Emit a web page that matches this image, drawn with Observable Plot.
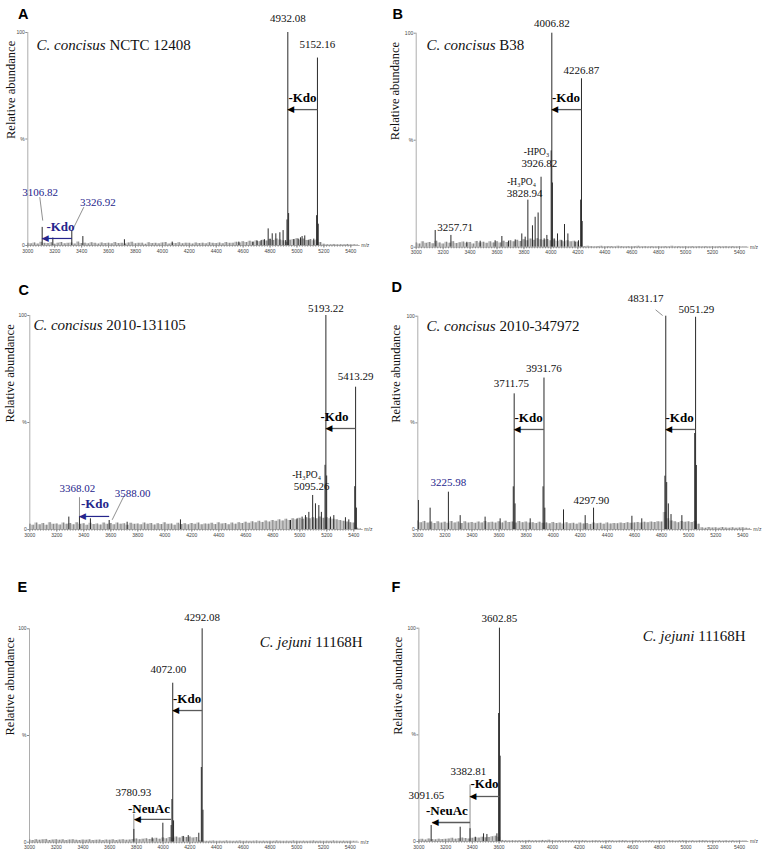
<!DOCTYPE html>
<html><head><meta charset="utf-8">
<script src="https://cdn.jsdelivr.net/npm/d3@7"></script>
<script src="https://cdn.jsdelivr.net/npm/@observablehq/plot@0.6"></script>
<style>
body{margin:0;background:#fff}
#fig{position:relative;width:766px;height:851px;overflow:hidden}
#fig svg{position:absolute;overflow:visible}
</style></head><body><div id="fig"></div>
<script>
// ---------- DATA ----------
const noiseStart = 3000, noiseStep = 25;
// Peaks: [m/z, relative abundance %]
const peaksA = [[3106.82,8.5],[3186,3.5],[3326.92,7],[3409,4.2],[3718,2.7],[4073,1.6],[4568,1.6],[4672,1.5],[4704,2],[4734,2.3],[4759,2.7],[4786,7.8],[4800,3],[4816,5.5],[4843,5.5],[4873,6],[4897,7],[4916,2.3],[4926,12],[4932.08,100],[4938,15],[4977,2.7],[5009,3],[5026,3.6],[5038,4.2],[5058,4.5],[5088,2.3],[5125,3],[5146,14],[5152.16,88],[5158,10]];
const peaksB = [[3141,7.8],[3257.71,5.5],[3376,2.3],[3475,2.8],[3586,3],[3636,5],[3685,2.8],[3735,3.4],[3784,6.2],[3809,4.7],[3828.94,22],[3863,10],[3883,14],[3905,16],[3926.82,32.7],[3950,3.9],[3970,5.5],[4002,45],[4006.82,100],[4011,30],[4024,3.9],[4049,6.2],[4081,3],[4101,10.6],[4126,6.2],[4180,2.3],[4205,3],[4221,22],[4226.87,78.7],[4232,12]];
const peaksC = [[3289,5.8],[3368.02,6],[3449,5],[3588.00,4.2],[3721,3.4],[4116,4.5],[4931,4.2],[4980,5],[5017,5.8],[5042,6.5],[5067,8],[5095.26,15.9],[5116,12],[5141,11.2],[5160,8],[5187,30],[5193.22,100],[5199,25],[5227,5.8],[5252,6.5],[5338,5.5],[5363,4.5],[5407,20],[5413.29,66.5],[5419,10]];
const peaksD = [[3005,13.6],[3091,10],[3225.98,17.5],[3313,6.5],[3497,5.8],[3608,5],[3705,20],[3711.75,63.6],[3718,12],[3830,5],[3925,20],[3931.76,71],[3938,10],[4076,9.2],[4236,6.5],[4297.90,10],[4581,6.2],[4654,5],[4825,25],[4831.17,100],[4838,22],[4850,12],[4870,7],[4950,6.5],[5045,45],[5051.29,99.5],[5057,30]];
const peaksE = [[3780.93,6],[3918,2],[3998,8.9],[4060,7.8],[4066,20],[4072.00,74.5],[4078,10],[4150,2.7],[4188,3.1],[4267,4.2],[4286,35],[4292.08,100],[4298,15]];
const peaksF = [[3091.65,7.5],[3309,6.7],[3382.81,6],[3422,2],[3484,3.6],[3509,3.3],[3584,3.6],[3597,60],[3602.85,100],[3608,40]];

// Baseline noise heights, every 25 m/z from 3000
const noiseA = [1,0.8,1.2,0.7,1.5,1,0.9,1.3,0.6,1.1,1.4,0.8,1,1.2,0.7,1.6,0.9,1.1,0.8,1.3,1,0.7,1.2,0.9,
1.1,0.8,1.4,0.9,1,0.7,1.2,1.5,0.8,1,1.1,0.6,1.3,0.9,1,0.8,1.2,1.4,0.7,1,0.9,1.3,0.8,1.1,
1,0.7,1.2,0.9,1.1,0.8,1.3,1,0.9,1.2,0.8,1.4,1,1.1,1.5,1.2,1.8,1.4,2,1.6,2.2,1.8,2.5,2.1,
2.8,2.4,3,2.6,2.2,1.5,2.5,2.8,3.2,2.6,3,2.4,2.8,2.2,2.6,1.4,0.6,0.4,0.3,0.5,0.3,0.4,0.3,0.5,
0.3,0.4,0.3];
const noiseB = [2,1.5,2.5,1.8,2.2,1.6,2.8,2,1.5,2.3,1.9,2.6,1.7,2.1,2.4,1.8,2.2,1.5,2.7,2,2.3,1.8,2.5,2,
2.6,2,2.8,2.2,3,2.5,3.2,2.7,3.5,3,3.8,3.2,4,3.5,3.2,3.6,3,3.4,2.8,3.2,2.6,3,2.5,2.8,
2.4,0.5,0.3,0.4,0.3,0.2,0.3,0.4,0.2,0.3,0.3,0.2,0.4,0.3,0.2,0.3,0.2,0.3,0.4,0.2,0.3,0.2,0.3,0.2,
0.3,0.2,0.3,0.2,0.4,0.2,0.3,0.2,0.3,0.2,0.3,0.2,0.3,0.2,0.3,0.2,0.3,0.2,0.3,0.2,0.3,0.2,0.3,0.2,
0.3,0.2,0.3];
const noiseC = [2.5,2,3,2.2,2.8,2,3.2,2.4,2.6,2.1,3,2.5,2.8,2.2,3.1,2.4,2.7,2,2.9,2.3,2.6,2.1,3,2.4,
2.8,2.2,3,2.5,2.7,2,2.9,2.4,2.6,2.2,3,2.5,2.8,2.1,2.7,2.3,3.1,2.4,2.6,2,2.9,2.3,2.7,2.2,
2.8,2.4,3,2.2,2.6,2.5,2.9,2.3,3.1,2.6,2.8,2.2,3,2.5,3.2,2.8,3.4,2.9,3.6,3.1,3.8,3.3,4,3.5,
4.2,3.8,4.5,4,4.8,4.2,5,4.5,5.2,4.8,5.5,5,5.5,5,5.8,5.2,5.5,5,4.8,4.5,4.2,3.8,3.5,3.2,
3,0.6,0.4];
const noiseD = [4,3.2,3.8,3,3.5,2.8,3.6,3,3.4,2.9,3.7,3.1,3.5,2.8,3.6,3,3.3,2.9,3.5,3.1,3.8,3.2,3.4,3,
3.6,3.1,3.9,3.3,3.5,3,3.7,3.2,3.5,3,3.2,2.8,3.4,2.9,3.1,2.7,3.3,2.8,3,2.6,3.2,2.7,2.9,2.5,
3,2.6,2.8,2.4,3,2.7,2.9,2.5,3.1,2.6,2.8,2.7,3,2.8,3.2,2.9,3.1,3.3,3,3.4,3.2,3.5,3.3,3.6,
3.5,8,5,4,3.6,3.2,3.8,3.4,3.6,3.3,3.8,2.5,0.8,0.6,0.9,0.7,0.8,0.6,0.9,0.7,0.6,0.8,0.6,0.7,
0.8,0.6,0.5];
const noiseE = [1,0.8,1.2,0.9,1.1,1.3,0.8,1,1.2,0.9,1.1,0.8,1,1.2,0.9,0.8,1,0.9,1.1,0.8,0.9,1,0.8,1,
0.9,1.1,0.8,1,1.2,0.9,1,1.3,1.5,1.2,1.4,1.6,1.3,1.5,1.8,1.4,2,1.6,2.2,1.8,2.4,2,2.5,2.2,
2.4,2,2.2,0.6,0.5,0.4,0.5,0.6,0.4,0.5,0.4,0.6,0.5,0.4,0.5,0.6,0.4,0.5,0.4,0.5,0.6,0.4,0.5,0.4,
0.5,0.4,0.6,0.5,0.4,0.5,0.4,0.6,0.5,0.4,0.5,0.4,0.5,0.6,0.4,0.5,0.4,0.5,0.4,0.6,0.5,0.4,0.5,0.4,
0.5,0.4,0.5];
const noiseF = [0.8,1,0.7,1.2,0.9,0.8,1.1,0.9,1,1.2,1.5,1.1,1.3,1.6,1.4,1.2,1.5,1.8,1.6,2,1.7,1.9,2.2,2.5,
2,0.5,0.4,0.3,0.4,0.3,0.4,0.3,0.4,0.5,0.3,0.4,0.3,0.5,0.4,0.6,0.4,0.3,0.4,0.3,0.4,0.3,0.4,0.3,
0.3,0.4,0.3,0.2,0.3,0.4,0.3,0.2,0.3,0.4,0.3,0.2,0.3,0.4,0.3,0.2,0.3,0.4,0.3,0.2,0.3,0.4,0.3,0.2,
0.3,0.2,0.3,0.4,0.3,0.2,0.3,0.4,0.3,0.2,0.3,0.2,0.3,0.4,0.3,0.2,0.3,0.2,0.3,0.2,0.3,0.2,0.3,0.2,
0.3,0.2,0.3];

// Labels: [text, m/z, abundance, kind]
const labelsA = [["4932.08",4932.08,106.6,"mass"],["5152.16",5152.16,94.4,"mass"],["-Kdo",5041,69.5,"loss"],
  ["3106.82",3091,24.9,"massLow"],["3326.92",3521,20.2,"massLow"],["-Kdo",3243,8.9,"lossLow"]];
const labelsB = [["4006.82",4006.82,104.5,"mass"],["4226.87",4226.87,82.6,"mass"],["-Kdo",4112,70,"loss"],
  ["-HPO\u2083",3893,44.4,"mod"],["3926.82",3915,39,"mass"],["-H\u2083PO\u2084",3782,30.4,"mod"],["3828.94",3804,25.2,"mass"],
  ["3257.71",3289,9.3,"mass"]];
const labelsC = [["5193.22",5193.22,103.4,"mass"],["5413.29",5413.29,71.5,"mass"],["-Kdo",5257,52.8,"loss"],
  ["-H\u2083PO\u2084",5050,25.7,"mod"],["5095.26",5087,20.1,"mass"],["3368.02",3353,19.2,"massLow"],
  ["-Kdo",3483,12.1,"lossLow"],["3588.00",3761,16.8,"massLow"]];
const labelsD = [["4831.17",4682,108.2,"mass"],["5051.29",5058,103.1,"mass"],["3931.76",3931.76,75.5,"mass"],
  ["3711.75",3691,68.4,"mass"],["-Kdo",3818,52.5,"loss"],["-Kdo",4933,52.5,"loss"],
  ["3225.98",3226,22,"massLow"],["4297.90",4282,13.6,"mass"]];
const labelsE = [["4292.08",4292.08,105.3,"mass"],["4072.00",4040,80.9,"mass"],["-Kdo",4179,67.3,"loss"],
  ["3780.93",3778,23.3,"mass"],["-NeuAc",3894,15.8,"loss"]];
const labelsF = [["3602.85",3602.85,104.5,"mass"],["3382.81",3371,33,"mass"],["-Kdo",3491,27.2,"loss"],
  ["3091.65",3056,21.6,"mass"],["-NeuAc",3210,14.5,"loss"]];

// Loss arrows: [from m/z, to m/z, abundance level, kind]
const arrowsA = [[5152.16,4932.08,63.8,"main"],[3326.92,3106.82,3.3,"low"]];
const arrowsB = [[4226.87,4006.82,64.3,"main"]];
const arrowsC = [[5413.29,5193.22,47.2,"main"],[3588.00,3368.02,6.1,"low"]];
const arrowsD = [[3931.76,3711.75,46.9,"main"],[5051.29,4831.17,46.9,"main"]];
const arrowsE = [[4292.08,4072.00,61.7,"main"],[4060,3785,10.7,"main"]];
const arrowsF = [[3602.85,3382.81,21.1,"main"],[3382.81,3100,8.9,"main"]];

// Leader lines: [m/z1, ab1, m/z2, ab2]
const leadersA = [[3089,22.7,3111,11.7],[3416,18,3334,7.5]];
const leadersB = [];
const leadersC = [[3368.02,15.1,3368.02,0],[3697,15.6,3610,4.5]];
const leadersD = [[4756,103,4808,100.3]];
const leadersE = [[3780.93,13.3,3780.93,0]];
const leadersF = [[3382.81,26.7,3382.81,0]];

const titles = ["C. concisus NCTC 12408","C. concisus B38","C. concisus 2010-131105","C. concisus 2010-347972","C. jejuni 11168H","C. jejuni 11168H"];
const letters = ["A","B","C","D","E","F"];
const xTicks = d3.range(3000, 5401, 200);
const xMinor = d3.range(3000, 5401, 20);
const yTicks = [0, 50, 100];

// ---------- LAYOUT ----------
const panels = [
  {peaks:peaksA,noise:noiseA,labels:labelsA,arrows:arrowsA,leaders:leadersA,title:[3065,94,"start"],
   left:0,top:0,h:270,m:[32,32.7,25,27.3],letter:[17.5,8],ylab:-17},
  {peaks:peaksB,noise:noiseB,labels:labelsB,arrows:arrowsB,leaders:leadersB,title:[3076,94.3,"start"],
   left:383,top:0,h:270,m:[32.7,27,23.3,32.7],letter:[9,8],ylab:-21},
  {peaks:peaksC,noise:noiseC,labels:labelsC,arrows:arrowsC,leaders:leadersC,title:[3027,95.3,"start"],
   left:0,top:270,h:290,m:[45,29.7,31,29.3],letter:[18,14],ylab:-20},
  {peaks:peaksD,noise:noiseD,labels:labelsD,arrows:arrowsD,leaders:leadersD,title:[3064,95.2,"start"],
   left:383,top:270,h:290,m:[45.7,23.7,31,34.3],letter:[8,11],ylab:-21.5},
  {peaks:peaksE,noise:noiseE,labels:labelsE,arrows:arrowsE,leaders:leadersE,title:[5492,93.6,"end"],
   left:0,top:560,h:291,m:[68.3,33.3,9.3,29],letter:[17,21.5],ylab:-20},
  {peaks:peaksF,noise:noiseF,labels:labelsF,arrows:arrowsF,leaders:leadersF,title:[5445,96.1,"end"],
   left:383,top:560,h:291,m:[67.7,27,10,35.4],letter:[8,21.5],ylab:-21}
];

const SERIF = "'Liberation Serif', 'Times New Roman', serif";
const SANS = "'Liberation Sans', Arial, sans-serif";
const BLUE = "#25258c";
const labelStyle = {
  mass:    {fontSize:11, fill:"#111", fontWeight:"normal"},
  massLow: {fontSize:11, fill:BLUE, fontWeight:"normal"},
  loss:    {fontSize:13, fill:"#000", fontWeight:"bold"},
  lossLow: {fontSize:13, fill:BLUE, fontWeight:"bold"},
  mod:     {fontSize:9.5, fill:"#111", fontWeight:"normal"}
};

const fig = document.getElementById("fig");

panels.forEach((p, i) => {
  const [mT, mR, mB, mL] = p.m;
  const noisePts = p.noise.map((v, k) => ({mz: noiseStart + noiseStep * k, ab: v}));
  const peakPts = p.peaks.map(([mz, ab]) => ({mz, ab}));
  const labs = p.labels.map(([text, x, y, kind]) => ({text, x, y, kind}));
  const arrs = p.arrows.map(([from, to, y, kind]) => ({from, to, y, kind}));
  const leads = p.leaders.map(([x1, y1, x2, y2]) => ({x1, y1, x2, y2}));

  const marks = [
    // spectrum: dense baseline band + hairs, then peaks
    Plot.areaY(noisePts, {x: "mz", y: "ab", fill: "#333", fillOpacity: 0.28, curve: "step"}),
    Plot.ruleX(noisePts, {x: "mz", y1: 0, y2: "ab", stroke: "#444", strokeWidth: 0.5}),
    Plot.ruleX(peakPts, {x: "mz", y1: 0, y2: "ab", stroke: "#2a2a2a", strokeWidth: 1}),
    // axes
    Plot.ruleY([0], {x1: 3000, x2: 5470, stroke: "#8a8a8a", strokeWidth: 0.7}),
    Plot.ruleX([3000], {y1: 0, y2: 100, stroke: "#8a8a8a", strokeWidth: 0.7}),
    Plot.axisX({ticks: xMinor, tickSize: 1.6, tickFormat: () => "", stroke: "#8a8a8a", label: null}),
    Plot.axisX({ticks: xTicks, tickSize: 2.6, tickPadding: 1, fontSize: 5, fill: "#444", stroke: "#8a8a8a",
      tickFormat: d => String(d), label: null, fontFamily: SANS}),
    Plot.axisY({ticks: yTicks, tickSize: 2, tickPadding: 1, fontSize: 5, fill: "#444", stroke: "#8a8a8a",
      tickFormat: d => d === 50 ? "%" : String(d), label: null, fontFamily: SANS}),
    Plot.text(["m/z"], {x: 5478, y: 0, textAnchor: "start", fontSize: 5, fill: "#444", fontFamily: SANS}),
    // leaders
    Plot.link(leads, {x1: "x1", y1: "y1", x2: "x2", y2: "y2", stroke: "#444", strokeWidth: 0.6}),
    // arrows
    Plot.link(arrs, {x1: "from", x2: "to", y1: "y", y2: "y",
      stroke: d => d.kind === "low" ? BLUE : "#5a5a5a", strokeWidth: d => d.kind === "low" ? 1.2 : 1.3}),
    Plot.text(arrs, {x: "to", y: "y", text: () => "\u25C0", textAnchor: "start", dx: -0.5,
      fontSize: 9, fontFamily: "'DejaVu Sans', sans-serif", fill: d => d.kind === "low" ? BLUE : "#000"}),
    // panel title
    Plot.text([titles[i]], {x: p.title[0], y: p.title[1], textAnchor: p.title[2], fontSize: 15,
      fontFamily: SERIF, fill: "#111"}),
    // y label
    Plot.text(["Relative abundance"], {frameAnchor: "left", dx: p.ylab, rotate: -90, fontSize: 12.5,
      fontFamily: SERIF, fill: "#111"}),
    // panel letter
    Plot.text([letters[i]], {frameAnchor: "top-left", dx: p.letter[0] - mL, dy: p.letter[1] - mT,
      fontSize: 14.5, fontWeight: "bold", fontFamily: SANS, fill: "#000"})
  ];
  for (const kind of Object.keys(labelStyle)) {
    const s = labelStyle[kind];
    marks.push(Plot.text(labs.filter(d => d.kind === kind), {x: "x", y: "y", text: "text",
      fontSize: s.fontSize, fill: s.fill, fontWeight: s.fontWeight, fontFamily: SERIF}));
  }

  const svg = Plot.plot({
    width: 383, height: p.h,
    marginTop: mT, marginRight: mR, marginBottom: mB, marginLeft: mL,
    x: {domain: [3000, 5400]},
    y: {domain: [0, 100]},
    style: {fontFamily: SERIF, background: "transparent", overflow: "visible"},
    marks
  });
  svg.style.left = p.left + "px";
  svg.style.top = p.top + "px";
  // italic species name in titles
  svg.querySelectorAll("text").forEach(t => {
    if (t.children.length) return;
    const m = t.textContent.match(/^(C\. [a-z]+)( .+)$/);
    if (!m) return;
    t.textContent = "";
    const ns = "http://www.w3.org/2000/svg";
    const a = document.createElementNS(ns, "tspan");
    a.setAttribute("font-style", "italic");
    a.textContent = m[1];
    const b = document.createElementNS(ns, "tspan");
    b.textContent = m[2];
    t.appendChild(a); t.appendChild(b);
  });
  fig.appendChild(svg);
});
</script></body></html>
